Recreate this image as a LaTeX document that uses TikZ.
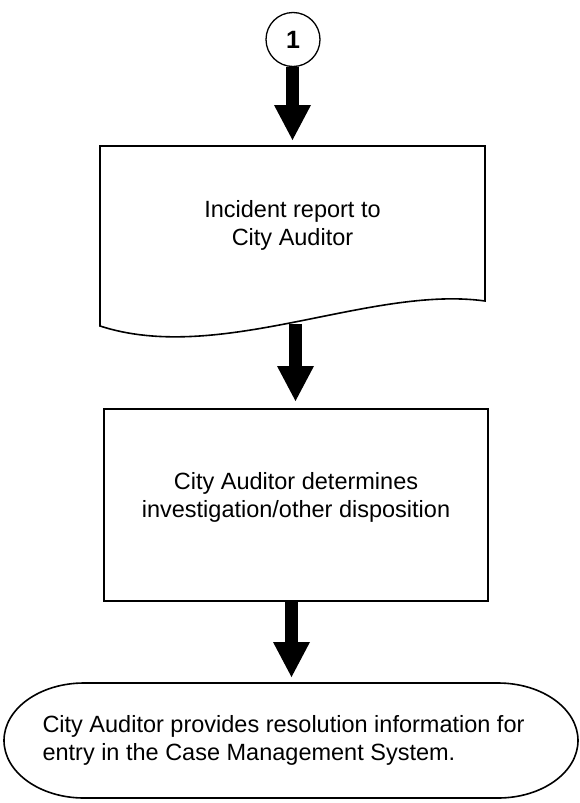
\documentclass[tikz,border=0pt]{standalone}
\usepackage{fontspec}
\setmainfont{Liberation Sans}
\usetikzlibrary{arrows.meta}
\begin{document}
\begin{tikzpicture}[x=1pt,y=-1pt,
  outline/.style={draw=black, line width=1.6pt},
  lbl/.style={font=\fontsize{23.5}{28}\selectfont, align=center, inner sep=0pt},
  blockarrow/.style={line width=13pt, -{Triangle[width=37pt 0, length=35pt 0, line width=0pt]}}]
\useasboundingbox (0,0) rectangle (579,803);
% connector circle
\node[outline, circle, line width=1.3pt, minimum size=54pt, inner sep=0pt,
      font=\fontsize{25}{28}\selectfont\bfseries] (c1) at (293,39.5) {1};
% document shape
\path (100,146) coordinate (doctl) (485,146) coordinate (doctr);
\node[lbl] (doctext) at (292.5,225) {Incident report to\\City Auditor};
\draw[outline, line join=miter] (100,326) -- (doctl) -- (doctr) -- (485,301)
   .. controls (370,285) and (220,365) .. (100,326) -- cycle;
\coordinate (doctop) at (292.5,146);
\coordinate (docb) at (295.5,324);
% process box
\path[outline] (104,409) rectangle (488,601);
\coordinate (proctop) at (295.5,409);
\coordinate (procbot) at (291.5,601);
\node[lbl] (proc) at (296,497)
  {City Auditor determines\\investigation/other disposition};
% terminal
\coordinate (term) at (291.5,683);
\draw[outline] (84,683) -- (498,683) arc[start angle=-90, end angle=90, x radius=80, y radius=57.5]
   -- (84,798) arc[start angle=90, end angle=270, x radius=80, y radius=57.5] -- cycle;
\node[lbl, align=left] (termtext) at (283.5,740.5)
  {City Auditor provides resolution information for\\entry in the Case Management System.};
% connectors
\draw[blockarrow, shorten >=6pt] (c1.south -| doctop) -- (doctop);
\draw[blockarrow, shorten >=8pt] (docb) -- (proctop);
\draw[blockarrow, shorten >=6pt] (procbot) -- (term);
\end{tikzpicture}
\end{document}
